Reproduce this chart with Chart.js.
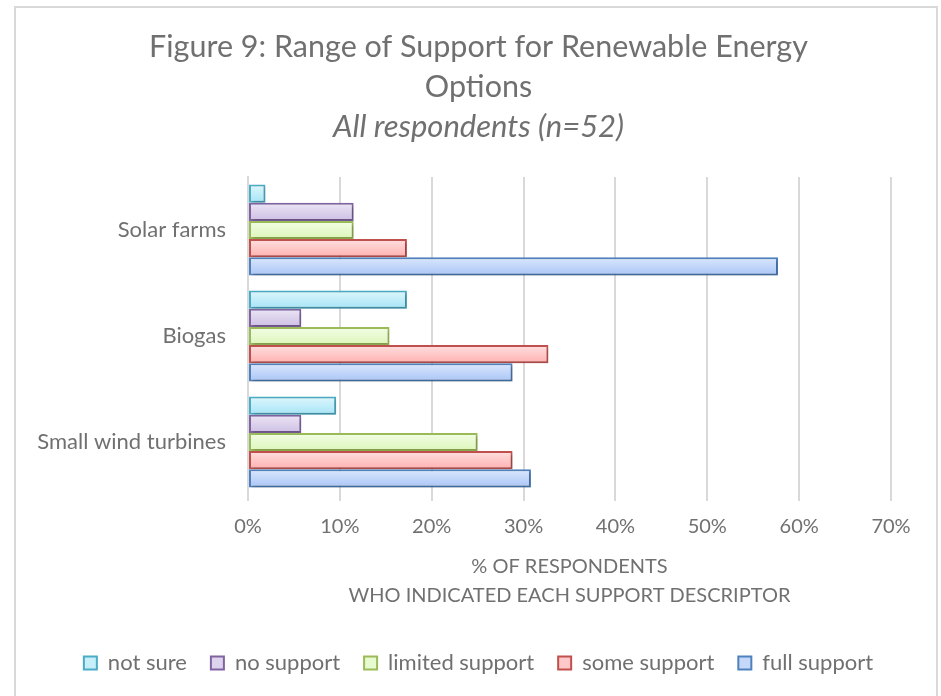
<!DOCTYPE html>
<html>
<head>
<meta charset="utf-8">
<script src="https://cdn.jsdelivr.net/npm/chart.js@4/dist/chart.umd.min.js"></script>
<style>
  html, body { margin: 0; padding: 0; background: #fff; }
  #wrap { position: relative; width: 941px; height: 696px; overflow: hidden; }
  #frame { position: absolute; left: 14px; top: 6px; width: 924px; height: 720px; border: 2px solid #d9d9d9; box-sizing: border-box; }
  canvas { position: absolute; left: 0; top: 0; }
</style>
</head>
<body>
<div id="wrap">
  <div id="frame"></div>
  <canvas id="c" width="941" height="696"></canvas>
</div>
<script>
// Data (fractions of respondents, n=52)
const categories = ['Solar farms', 'Biogas', 'Small wind turbines'];
const seriesNames = ['not sure', 'no support', 'limited support', 'some support', 'full support'];
const notSure = [0.019, 0.173, 0.096];
const noSupport = [0.115, 0.058, 0.058];
const limitedSupport = [0.115, 0.154, 0.250];
const someSupport = [0.173, 0.327, 0.288];
const fullSupport = [0.577, 0.288, 0.308];
const xTicks = [0, 0.1, 0.2, 0.3, 0.4, 0.5, 0.6, 0.7];

const seriesValues = [notSure, noSupport, limitedSupport, someSupport, fullSupport];
const borderColors = ['#4bacc6', '#8064a2', '#9bbb59', '#c0504d', '#4f81bd'];
const topColors = ['#dff7fd', '#ece6f5', '#f3fde6', '#ffe0e0', '#dbe7fc'];
const bottomColors = ['#a5e4f6', '#cdbfe4', '#dcf6b9', '#ffb0b0', '#a9c5f6'];
const midColors = ['#c6effa', '#ddd3ec', '#e8fad0', '#ffc8c8', '#c5d8f9'];

const FONT = 'Lato';
const TXT = '#707070';

const gradientPlugin = {
  id: 'gradientBars',
  beforeDatasetsDraw(chart) {
    const ctx = chart.ctx;
    chart.data.datasets.forEach((ds, di) => {
      const meta = chart.getDatasetMeta(di);
      meta.data.forEach(el => {
        const top = el.y - el.height / 2;
        const bot = el.y + el.height / 2;
        const g = ctx.createLinearGradient(0, top, 0, bot);
        g.addColorStop(0, topColors[di]);
        g.addColorStop(1, bottomColors[di]);
        el.options = Object.assign({}, el.options, { backgroundColor: g });
      });
    });
    ctx.save();
    ctx.shadowColor = 'rgba(0,0,0,0.22)';
    ctx.shadowOffsetX = 2;
    ctx.shadowOffsetY = 2;
    ctx.shadowBlur = 3;
  },
  afterDatasetsDraw(chart) {
    chart.ctx.restore();
  }
};

new Chart(document.getElementById('c'), {
  type: 'bar',
  data: {
    labels: categories,
    datasets: seriesNames.map((name, i) => ({
      label: name,
      data: seriesValues[i],
      backgroundColor: midColors[i],
      borderColor: borderColors[i],
      borderWidth: 2,
      borderSkipped: false,
      categoryPercentage: 0.86,
      barPercentage: 1.0
    }))
  },
  options: {
    indexAxis: 'y',
    responsive: false,
    animation: false,
    devicePixelRatio: 1,
    layout: { padding: { left: 16, right: 0, top: 0, bottom: 12 } },
    plugins: {
      title: {
        display: true,
        text: ['Figure 9: Range of Support for Renewable Energy', 'Options'],
        color: TXT,
        font: { family: FONT, size: 30.5, weight: 'normal', lineHeight: '40px' },
        padding: { top: 27, bottom: 0 }
      },
      subtitle: {
        display: true,
        text: 'All respondents (n=52)',
        color: TXT,
        font: { family: FONT, size: 31, style: 'italic', weight: 'normal', lineHeight: '40px' },
        padding: { top: 0, bottom: 30 }
      },
      legend: {
        position: 'bottom',
        labels: {
          color: TXT,
          font: { family: FONT, size: 22 },
          boxWidth: 13,
          boxHeight: 13,
          padding: 24
        }
      },
      tooltip: { enabled: false }
    },
    scales: {
      x: {
        min: 0,
        max: 0.7,
        afterBuildTicks(scale) { scale.ticks = xTicks.map(v => ({ value: v })); },
        ticks: {
          color: TXT,
          font: { family: FONT, size: 20 },
          padding: 14,
          callback: v => Math.round(v * 100) + '%'
        },
        grid: { color: '#d9d9d9', lineWidth: 2, tickLength: 6, drawTicks: true },
        border: { display: false },
        title: {
          display: true,
          text: ['% OF RESPONDENTS', 'WHO INDICATED EACH SUPPORT DESCRIPTOR'],
          color: TXT,
          font: { family: FONT, size: 20, lineHeight: '29px' },
          padding: { top: -1, bottom: 18 }
        }
      },
      y: {
        afterFit(scale) { scale.width = 232; },
        ticks: {
          color: TXT,
          font: { family: FONT, size: 22 },
          padding: 22
        },
        grid: { display: false, drawTicks: false },
        border: { display: true, color: '#d9d9d9', width: 2 }
      },
      yRight: {
        type: 'category',
        position: 'right',
        display: true,
        afterFit(scale) { scale.width = 50; },
        ticks: { display: false },
        grid: { display: false, drawTicks: false },
        border: { display: false }
      }
    }
  },
  plugins: [gradientPlugin]
});
</script>
</body>
</html>
